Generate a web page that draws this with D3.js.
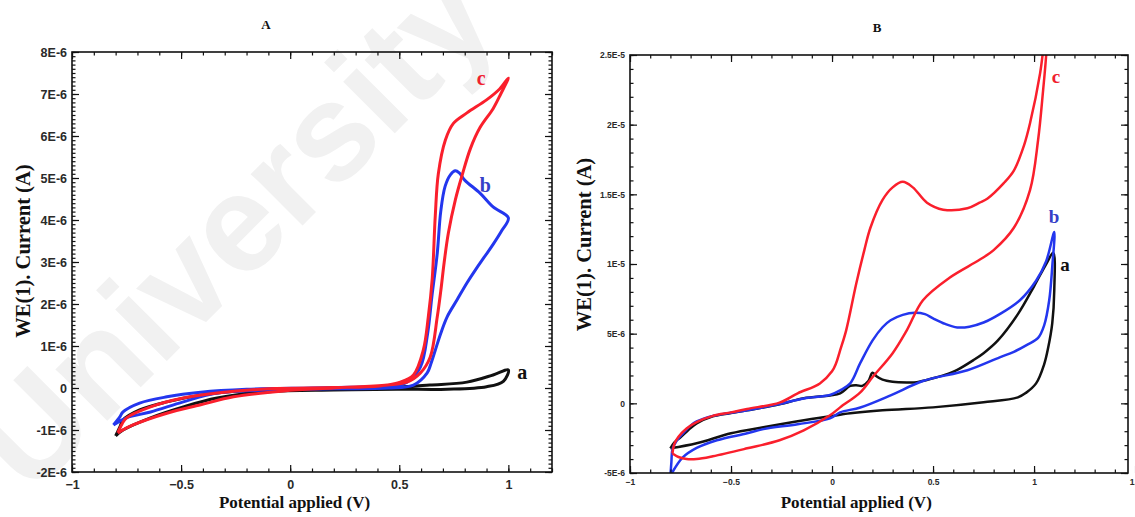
<!DOCTYPE html>
<html>
<head>
<meta charset="utf-8">
<script src="https://cdn.jsdelivr.net/npm/d3@7"></script>
<style>
  body { margin: 0; background: #fff; }
  svg { display: block; }
</style>
</head>
<body>
<svg id="fig" width="1135" height="517"></svg>
<script>
// ---- Panel A: cyclic voltammograms (potential V, current in units of 1E-6 A) ----
const cvA_a = [
  [-0.80,-1.14],[-0.78,-0.92],[-0.766,-0.76],[-0.69,-0.52],[-0.565,-0.33],[-0.41,-0.17],
  [-0.25,-0.08],[0.0,-0.02],[0.3,0.0],[0.46,0.01],[0.64,0.07],[0.81,0.14],[0.93,0.31],[1.0,0.43],
  [0.977,0.16],[0.90,0.03],[0.72,-0.03],[0.49,-0.03],[0.2,-0.05],[-0.1,-0.09],[-0.335,-0.24],
  [-0.49,-0.45],[-0.64,-0.71],[-0.766,-1.0],[-0.80,-1.14]
];
const cvA_b = [
  [-0.81,-0.88],[-0.78,-0.68],[-0.766,-0.57],[-0.69,-0.36],[-0.565,-0.21],[-0.41,-0.1],
  [-0.2,-0.03],[0.1,0.0],[0.3,0.02],[0.47,0.04],[0.535,0.14],[0.597,0.5],[0.63,1.3],
  [0.65,2.2],[0.674,3.2],[0.69,4.2],[0.71,4.8],[0.735,5.08],[0.757,5.17],[0.775,5.12],
  [0.80,4.95],[0.87,4.64],[0.93,4.31],[1.0,4.05],
  [0.97,3.75],[0.93,3.42],[0.89,3.12],[0.85,2.82],[0.81,2.5],[0.765,2.1],[0.72,1.7],
  [0.69,1.3],[0.665,0.9],[0.645,0.58],[0.628,0.36],[0.565,0.07],[0.45,0.0],[0.2,-0.02],
  [-0.1,-0.05],[-0.335,-0.12],[-0.49,-0.33],[-0.64,-0.57],[-0.75,-0.71],[-0.81,-0.88]
];
const cvA_c = [
  [-0.79,-1.07],[-0.77,-0.85],[-0.75,-0.71],[-0.64,-0.45],[-0.49,-0.24],[-0.335,-0.12],
  [-0.1,-0.02],[0.2,0.01],[0.41,0.05],[0.505,0.14],[0.565,0.31],[0.61,0.9],[0.633,1.69],
  [0.651,2.6],[0.665,4.1],[0.679,5.1],[0.711,5.9],[0.748,6.3],[0.81,6.55],[0.90,6.86],
  [0.96,7.12],[1.0,7.38],
  [0.965,7.0],[0.93,6.65],[0.87,6.2],[0.826,5.7],[0.79,5.1],[0.757,4.48],[0.725,3.69],
  [0.706,3.0],[0.69,2.3],[0.674,1.69],[0.642,0.74],[0.597,0.36],[0.535,0.14],[0.445,0.07],
  [0.2,0.0],[-0.03,-0.07],[-0.26,-0.21],[-0.41,-0.4],[-0.565,-0.6],[-0.72,-0.88],[-0.79,-1.07]
];

// ---- Panel B: cyclic voltammograms (potential V, current in units of 1E-6 A) ----
const cvB_a = [
  [-0.80,-3.23],[-0.78,-2.8],[-0.75,-2.44],[-0.71,-1.9],[-0.67,-1.44],[-0.59,-0.93],
  [-0.5,-0.7],[-0.42,-0.5],[-0.26,-0.07],[-0.14,0.36],[-0.01,0.57],[0.04,0.72],[0.09,1.25],
  [0.12,1.3],[0.15,1.25],[0.18,1.6],[0.20,2.2],[0.22,1.95],[0.25,1.7],[0.30,1.55],
  [0.37,1.5],[0.42,1.52],[0.50,1.8],[0.58,2.15],[0.62,2.4],[0.70,3.1],[0.75,3.6],
  [0.82,4.5],[0.92,6.4],[1.0,8.4],[1.06,10.0],[1.095,10.8],
  [1.10,8.1],[1.09,5.74],[1.07,4.0],[1.05,2.8],[1.01,1.43],[0.96,0.75],[0.92,0.43],
  [0.75,0.07],[0.5,-0.29],[0.25,-0.5],[0.09,-0.72],[-0.01,-0.93],[-0.17,-1.29],
  [-0.34,-1.72],[-0.5,-2.15],[-0.67,-2.87],[-0.80,-3.23]
];
const cvB_b = [
  [-0.80,-5.2],[-0.795,-4.2],[-0.79,-3.3],[-0.77,-2.7],[-0.74,-2.2],[-0.70,-1.6],
  [-0.67,-1.3],[-0.59,-0.9],[-0.42,-0.5],[-0.26,-0.05],[-0.14,0.35],[-0.01,0.6],
  [0.04,0.93],[0.09,1.43],[0.14,2.9],[0.2,4.5],[0.25,5.46],[0.29,5.96],[0.35,6.35],
  [0.41,6.5],[0.46,6.4],[0.5,6.1],[0.56,5.7],[0.62,5.45],[0.68,5.5],[0.75,5.8],
  [0.83,6.4],[0.93,7.4],[1.01,8.8],[1.06,10.2],[1.10,12.3],
  [1.09,9.8],[1.075,7.4],[1.05,5.6],[1.02,4.7],[0.965,4.2],[0.9,3.7],[0.83,3.3],
  [0.67,2.37],[0.45,1.6],[0.29,0.57],[0.14,-0.3],[0.04,-0.65],[-0.01,-1.08],
  [-0.17,-1.5],[-0.34,-1.85],[-0.42,-2.15],[-0.57,-2.65],[-0.67,-3.2],[-0.74,-3.9],
  [-0.80,-5.2]
];
const cvB_c = [
  [-0.79,-3.6],[-0.78,-2.9],[-0.76,-2.4],[-0.72,-1.8],[-0.67,-1.35],[-0.59,-0.9],
  [-0.5,-0.65],[-0.42,-0.4],[-0.26,0.05],[-0.17,0.72],[-0.06,1.43],[0.0,2.3],[0.02,2.87],
  [0.04,3.8],[0.07,5.24],[0.12,8.6],[0.16,11.0],[0.19,12.6],[0.25,14.6],[0.30,15.5],
  [0.35,15.9],[0.40,15.5],[0.47,14.4],[0.55,13.9],[0.67,14.0],[0.73,14.4],[0.77,14.7],
  [0.85,15.8],[0.90,16.7],[0.95,18.5],[0.98,20.1],[1.03,23.7],[1.05,26],[1.08,30],[1.10,34],
  [1.07,28],[1.06,25],[1.045,22.5],[1.02,18.9],[0.98,15.3],[0.90,12.6],[0.80,11.0],
  [0.73,10.3],[0.58,9.0],[0.45,7.4],[0.37,5.24],[0.30,3.6],[0.2,1.87],[0.14,0.79],
  [0.04,-0.29],[-0.01,-0.86],[-0.14,-1.94],[-0.26,-2.65],[-0.42,-3.23],[-0.59,-3.8],
  [-0.67,-4.0],[-0.72,-4.0],[-0.76,-3.85],[-0.79,-3.6]
];

// ---- axis ticks ----
const xTicks = [-1, -0.5, 0, 0.5, 1];
const xTicksB = [-1, -0.5, 0, 0.5, 1, 1.5];
const yTicksA = [-2, -1, 0, 1, 2, 3, 4, 5, 6, 7, 8];
const yTicksB = [-5, 0, 5, 10, 15, 20, 25];

// curve labels: [text, potential, current, colour key]
const labelsA = [["c", 0.876, 7.38, "c"], ["b", 0.894, 4.83, "b"], ["a", 1.064, 0.38, "a"]];
const labelsB = [["c", 1.109, 23.47, "c"], ["b", 1.099, 13.42, "b"], ["a", 1.153, 9.98, "a"]];

const colors = { a: "#111111", b: "#2336ee", c: "#fa1f2c" };
const labelColors = { a: "#111111", b: "#3540c8", c: "#f0202e" };

const svg = d3.select("#fig");

// faint diagonal watermark
svg.append("text")
  .attr("transform", "translate(232,228) rotate(-45)")
  .attr("text-anchor", "middle")
  .attr("dominant-baseline", "central")
  .attr("font-family", "Liberation Sans, Arial, sans-serif")
  .attr("font-weight", "bold")
  .attr("font-size", 138)
  .attr("fill", "#f1f1f1")
  .text("University");

// E-notation label, value given in 1E-6 A
function eFormat(v) {
  if (v === 0) return "0";
  const a = v * 1e-6;
  const e = Math.floor(Math.log10(Math.abs(a)) + 1e-9);
  const m = +(a / Math.pow(10, e)).toFixed(2);
  return m + "E" + e;
}

function panel(cfg) {
  const { left, top, width, height, xDom, yDom, series, labels, tickFont, lw, id } = cfg;
  const x = d3.scaleLinear().domain(xDom).range([0, width]);
  const y = d3.scaleLinear().domain(yDom).range([height, 0]);
  const g = svg.append("g").attr("transform", `translate(${left},${top})`);

  g.append("clipPath").attr("id", "clip" + id)
    .append("rect").attr("width", width).attr("height", height);

  const line = d3.line().x(d => x(d[0])).y(d => y(d[1])).curve(d3.curveCatmullRom.alpha(0.5));

  const plot = g.append("g").attr("clip-path", `url(#clip${id})`);
  series.forEach(([key, data]) => {
    plot.append("path").datum(data)
      .attr("d", line)
      .attr("fill", "none")
      .attr("stroke", colors[key])
      .attr("stroke-width", lw)
      .attr("stroke-linejoin", "round");
  });

  const styleAxis = sel => {
    sel.select(".domain").remove();
    sel.selectAll("line").attr("stroke", "#111").attr("stroke-width", 1.2);
    sel.selectAll("text").attr("font-family", "Liberation Sans, Arial, sans-serif")
      .attr("font-size", tickFont).attr("font-weight", "bold").attr("fill", "#2a2a2a");
  };

  const xMinor = d3.range(xDom[0], xDom[1] + 1e-9, 0.1).map(v => +v.toFixed(2));
  const yMinor = d3.range(yDom[0], yDom[1] + 1e-9, cfg.yMinorStep).map(v => +v.toFixed(2));

  // bottom
  g.append("g").attr("transform", `translate(0,${height})`)
    .call(d3.axisBottom(x).tickValues(cfg.xTicks).tickSize(-7).tickSizeOuter(0)
      .tickPadding(cfg.xPad).tickFormat(d3.format("")))
    .call(styleAxis);
  g.append("g").attr("transform", `translate(0,${height})`)
    .call(d3.axisBottom(x).tickValues(xMinor).tickSize(-3.5).tickFormat(""))
    .call(styleAxis);
  // top
  g.append("g")
    .call(d3.axisTop(x).tickValues(cfg.xTicks.filter(v => v <= xDom[1])).tickSize(-7).tickFormat(""))
    .call(styleAxis);
  g.append("g")
    .call(d3.axisTop(x).tickValues(xMinor).tickSize(-3.5).tickFormat(""))
    .call(styleAxis);
  // left
  g.append("g")
    .call(d3.axisLeft(y).tickValues(cfg.yTicks).tickSize(-7).tickSizeOuter(0)
      .tickPadding(cfg.yPad).tickFormat(eFormat))
    .call(styleAxis);
  g.append("g")
    .call(d3.axisLeft(y).tickValues(yMinor).tickSize(-3.5).tickFormat(""))
    .call(styleAxis);
  // right
  g.append("g").attr("transform", `translate(${width},0)`)
    .call(d3.axisRight(y).tickValues(cfg.yTicks).tickSize(-7).tickFormat(""))
    .call(styleAxis);
  g.append("g").attr("transform", `translate(${width},0)`)
    .call(d3.axisRight(y).tickValues(yMinor).tickSize(-3.5).tickFormat(""))
    .call(styleAxis);

  // frame
  g.append("rect").attr("width", width).attr("height", height)
    .attr("fill", "none").attr("stroke", "#111").attr("stroke-width", 1.6);

  // curve letters
  labels.forEach(([t, xv, yv, key]) => {
    g.append("text")
      .attr("x", x(xv)).attr("y", y(yv))
      .attr("text-anchor", "middle").attr("dominant-baseline", "central")
      .attr("font-family", "Liberation Serif, Times New Roman, serif")
      .attr("font-weight", "bold").attr("font-size", cfg.labelFont)
      .attr("fill", labelColors[key]).text(t);
  });

  // axis titles
  const titleFont = "Liberation Serif, Times New Roman, serif";
  svg.append("text")
    .attr("x", left + x(cfg.xTitleAt)).attr("y", cfg.xTitleY)
    .attr("text-anchor", "middle")
    .attr("font-family", titleFont).attr("font-weight", "bold").attr("font-size", 17)
    .attr("fill", "#111").text("Potential applied (V)");
  svg.append("text")
    .attr("transform", `translate(${cfg.yTitleX},${top + y(cfg.yTitleAt)}) rotate(-90)`)
    .attr("text-anchor", "middle").attr("dominant-baseline", "central")
    .attr("font-family", titleFont).attr("font-weight", "bold").attr("font-size", 20.5)
    .attr("fill", "#111").text("WE(1). Current (A)");
  svg.append("text")
    .attr("x", cfg.titleX).attr("y", cfg.titleY)
    .attr("text-anchor", "middle").attr("dominant-baseline", "central")
    .attr("font-family", titleFont).attr("font-weight", "bold").attr("font-size", 13)
    .attr("fill", "#111").text(cfg.title);
}

panel({
  id: "A", left: 72, top: 52, width: 480, height: 420,
  xDom: [-1, 1.2], yDom: [-2, 8], xTicks: xTicks, yTicks: yTicksA, yMinorStep: 0.1,
  series: [["a", cvA_a], ["b", cvA_b], ["c", cvA_c]], labels: labelsA,
  tickFont: 12.5, lw: 3, labelFont: 20, xPad: 8, yPad: 5,
  xTitleAt: 0.02, xTitleY: 508, yTitleX: 23, yTitleAt: 3.26,
  title: "A", titleX: 266, titleY: 24
});

panel({
  id: "B", left: 630, top: 55, width: 498, height: 418,
  xDom: [-1, 1.465], yDom: [-5, 25], xTicks: xTicksB, yTicks: yTicksB, yMinorStep: 1,
  series: [["a", cvB_a], ["b", cvB_b], ["c", cvB_c]], labels: labelsB,
  tickFont: 8.5, lw: 2.5, labelFont: 19, xPad: 6, yPad: 5,
  xTitleAt: 0.12, xTitleY: 508, yTitleX: 584, yTitleAt: 11.4,
  title: "B", titleX: 877, titleY: 27
});
</script>
</body>
</html>
